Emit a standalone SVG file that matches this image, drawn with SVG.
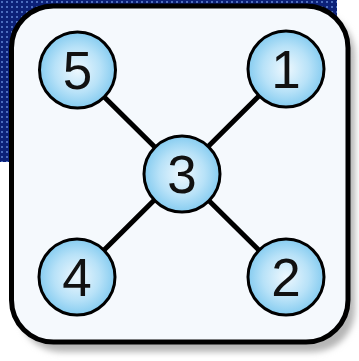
<svg xmlns="http://www.w3.org/2000/svg" width="359" height="361" viewBox="0 0 359 361">
  <defs>
    <pattern id="dots" x="0" y="0" width="5" height="5" patternUnits="userSpaceOnUse">
      <rect width="5" height="5" fill="#0c2178"/>
      <rect x="1" y="1" width="2" height="2" fill="#5d7fd0" opacity="0.8"/>
    </pattern>
    <radialGradient id="nodeFill" cx="0.5" cy="0.5" r="0.5">
      <stop offset="0" stop-color="#eef8fe"/>
      <stop offset="0.6" stop-color="#b8e2f8"/>
      <stop offset="1" stop-color="#86ccf0"/>
    </radialGradient>
    <filter id="blur" x="-10%" y="-10%" width="120%" height="120%">
      <feGaussianBlur stdDeviation="3"/>
    </filter>
  </defs>
  <style>
    .node circle { fill: url(#nodeFill); stroke: #000; stroke-width: 3; }
    .node text { font-family: "Liberation Sans", Arial, sans-serif; font-size: 53px; fill: #111; text-anchor: middle; }
    .edge { stroke: #000; stroke-width: 5; stroke-linecap: round; }
  </style>
  <rect width="359" height="361" fill="#ffffff"/>
  <rect x="0" y="0" width="337" height="162" fill="url(#dots)"/>
  <rect x="19" y="13" width="336" height="339" rx="42" fill="#b5b5b5" filter="url(#blur)"/>
  <rect id="frame" x="11.5" y="6" width="336.5" height="336" rx="42" fill="#f5f9fd" stroke="#000" stroke-width="5"/>
  <g id="connectors">
    <line class="edge" x1="77" y1="70" x2="286" y2="277"/>
    <line class="edge" x1="286" y1="69" x2="77" y2="277"/>
  </g>
  <g id="node5" class="node"><circle cx="77.5" cy="70" r="38"/><text x="77.5" y="89">5</text></g>
  <g id="node1" class="node"><circle cx="286" cy="69" r="38"/><text x="286" y="88">1</text></g>
  <g id="node3" class="node"><circle cx="182" cy="174" r="38"/><text x="182" y="193">3</text></g>
  <g id="node4" class="node"><circle cx="77" cy="277" r="38"/><text x="77" y="296">4</text></g>
  <g id="node2" class="node"><circle cx="286" cy="277" r="38"/><text x="286" y="296">2</text></g>
</svg>
